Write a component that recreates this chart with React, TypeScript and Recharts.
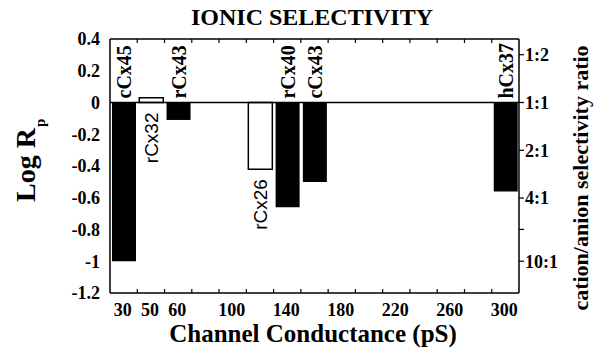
import React from 'react';
import { ComposedChart, Bar, XAxis, YAxis, ReferenceLine, LabelList } from 'recharts';

// ---- data ----
const conductanceBins = ['30', '50', '60', '80', '100', '120', '140', '160', '180', '200', '220', '240', '260', '280', '300'];
const labeledBins = ['30', '50', '60', '100', '140', '180', '220', '260', '300'];
const channelNames = ['cCx45', 'rCx32', 'rCx43', 'rCx26', 'rCx40', 'cCx43', 'hCx37'];
const channelBins = ['30', '50', '60', '120', '140', '160', '300'];
const logRp = [-1.0, 0.03, -0.11, -0.42, -0.66, -0.5, -0.56];
const openChannels = ['rCx32', 'rCx26'];
const yTicks = [0.4, 0.2, 0, -0.2, -0.4, -0.6, -0.8, -1, -1.2];
const ratioLabels = ['1:2', '1:1', '2:1', '4:1', '', '10:1'];
const ratioValues = [0.5, 1, 2, 4, 6.3, 10];

const ratioTicks = ratioValues.map((r) => -Math.log10(r) + 0);

const tableData = conductanceBins.map((bin) => {
  const i = channelBins.indexOf(bin);
  const row: any = { bin, name: null, filled: null, open: null };
  if (i >= 0) {
    row.name = channelNames[i];
    if (openChannels.includes(channelNames[i])) row.open = logRp[i];
    else row.filled = logRp[i];
  }
  return row;
});

// ---- layout constants ----
const W = 598;
const H = 351;
const LEFT_W = 110;
const RIGHT_W = 79;
const TOP_H = 39;
const BOTTOM_H = 58;
const PLOT_W = W - LEFT_W - RIGHT_W;
const BAND = PLOT_W / conductanceBins.length;
const FONT = '"Liberation Serif", "Times New Roman", Times, serif';
const SANS = '"Liberation Sans", Arial, Helvetica, sans-serif';

const BottomTick = (props: any) => {
  const { x, y, payload } = props;
  const v = payload.value;
  const idx = conductanceBins.indexOf(v);
  return (
    <g>
      {idx < conductanceBins.length - 1 && (
        <line x1={x + BAND / 2} x2={x + BAND / 2} y1={y} y2={y - 4} stroke="#000" strokeWidth={1.2} />
      )}
      {labeledBins.includes(v) && (
        <text x={x - 1} y={y + 23} textAnchor="middle" fontFamily={FONT} fontWeight="bold" fontSize={18} fill="#000">
          {v}
        </text>
      )}
    </g>
  );
};

const TopTick = (props: any) => {
  const { x, y, payload } = props;
  const idx = conductanceBins.indexOf(payload.value);
  if (idx >= conductanceBins.length - 1) return <g />;
  return (
    <g>
      <line x1={x + BAND / 2} x2={x + BAND / 2} y1={y} y2={y + 4} stroke="#000" strokeWidth={1.2} />
    </g>
  );
};

const ratioFormatter = (v: number) => {
  let best = 0;
  let bd = Infinity;
  ratioTicks.forEach((t, i) => {
    const d = Math.abs(t - v);
    if (d < bd) {
      bd = d;
      best = i;
    }
  });
  return ratioLabels[best];
};

const barLabel = (open: boolean) => (props: any) => {
  const { x, y, width, height, value } = props;
  if (!value || x == null) return null;
  const cx = x + width / 2;
  const top = Math.min(y, y + height);
  const bottom = Math.max(y, y + height);
  const ty = open ? bottom + 10 : top - 4;
  return (
    <text
      x={cx}
      y={ty}
      dy="0.35em"
      transform={`rotate(-90, ${cx}, ${ty})`}
      textAnchor={open ? 'end' : 'start'}
      fontFamily={open ? SANS : FONT}
      fontWeight={open ? 'normal' : 'bold'}
      fontSize={open ? 19 : 20}
      fill="#000"
    >
      {value}
    </text>
  );
};

const TitleLabel = () => (
  <text x={312} y={25} textAnchor="middle" fontFamily={FONT} fontWeight="bold" fontSize={24} fill="#000">
    IONIC SELECTIVITY
  </text>
);

const XTitle = () => (
  <text x={313} y={342} textAnchor="middle" fontFamily={FONT} fontWeight="bold" fontSize={25} fill="#000">
    Channel Conductance (pS)
  </text>
);

const LeftTitle = () => (
  <text
    x={35}
    y={202}
    transform="rotate(-90, 35, 202)"
    textAnchor="start"
    fontFamily={FONT}
    fontWeight="bold"
    fontSize={28}
    fill="#000"
  >
    Log R
    <tspan fontSize={15} dy={10} dx={1}>
      p
    </tspan>
  </text>
);

const RightTitle = () => (
  <text
    x={580}
    y={178}
    dy="0.35em"
    transform="rotate(-90, 580, 178)"
    textAnchor="middle"
    fontFamily={FONT}
    fontWeight="bold"
    fontSize={22}
    fill="#000"
  >
    cation/anion selectivity ratio
  </text>
);

const axisStyle = { stroke: '#000', strokeWidth: 1.5 };

export default function App() {
  return (
    <div style={{ position: 'absolute', left: 0, top: 0, background: '#fff' }}>
      <ComposedChart
        width={W}
        height={H}
        data={tableData}
        margin={{ top: 0, right: 0, bottom: 0, left: 0 }}
        barGap={0}
      >
        <XAxis
          xAxisId="bottom"
          dataKey="bin"
          type="category"
          orientation="bottom"
          height={BOTTOM_H}
          interval={0}
          tickSize={0}
          tickMargin={0}
          tickLine={false}
          axisLine={axisStyle}
          tick={<BottomTick />}
          label={<XTitle />}
        />
        <XAxis
          xAxisId="top"
          dataKey="bin"
          type="category"
          orientation="top"
          height={TOP_H}
          interval={0}
          tickSize={0}
          tickMargin={0}
          tickLine={false}
          axisLine={axisStyle}
          tick={<TopTick />}
          label={<TitleLabel />}
        />
        <YAxis
          yAxisId="left"
          type="number"
          domain={[-1.2, 0.4]}
          allowDataOverflow
          ticks={yTicks}
          interval={0}
          width={LEFT_W}
          tickLine={false}
          tickSize={0}
          tickMargin={10}
          axisLine={axisStyle}
          tick={{ fill: '#000', fontSize: 18, fontWeight: 'bold', fontFamily: FONT }}
          label={<LeftTitle />}
        />
        <YAxis
          yAxisId="right"
          orientation="right"
          type="number"
          domain={[-1.2, 0.4]}
          allowDataOverflow
          ticks={ratioTicks}
          interval={0}
          width={RIGHT_W}
          tickSize={5}
          tickMargin={1}
          tickLine={{ stroke: '#000', strokeWidth: 1.2 }}
          axisLine={axisStyle}
          tickFormatter={ratioFormatter}
          tick={{ fill: '#000', fontSize: 18, fontWeight: 'bold', fontFamily: FONT, textAnchor: 'start' }}
          label={<RightTitle />}
        />
        <ReferenceLine xAxisId="bottom" yAxisId="left" y={0} stroke="#000" strokeWidth={1.5} />
        <Bar
          xAxisId="bottom"
          yAxisId="left"
          dataKey="filled"
          stackId="s"
          barSize={24}
          fill="#000"
          isAnimationActive={false}
        >
          <LabelList dataKey="name" content={barLabel(false)} />
        </Bar>
        <Bar
          xAxisId="bottom"
          yAxisId="left"
          dataKey="open"
          stackId="s"
          barSize={24}
          fill="#fff"
          stroke="#000"
          strokeWidth={1.5}
          isAnimationActive={false}
        >
          <LabelList dataKey="name" content={barLabel(true)} />
        </Bar>
      </ComposedChart>
    </div>
  );
}
